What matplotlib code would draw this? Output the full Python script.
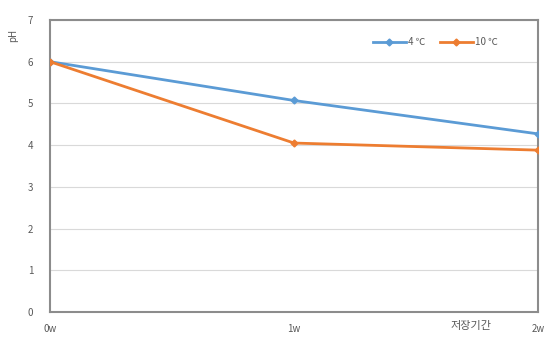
import matplotlib
matplotlib.use("Agg")
import matplotlib.pyplot as plt

plt.rcParams['font.family'] = ['Noto Sans CJK KR', 'DejaVu Sans']

weeks = ["0w", "1w", "2w"]
ph_4c = [6.0, 5.07, 4.27]
ph_10c = [6.0, 4.05, 3.88]
series_labels = ["4 ℃", "10 ℃"]
yticks = [0, 1, 2, 3, 4, 5, 6, 7]

fig = plt.figure(figsize=(5.48, 3.37), dpi=100)
ax = fig.add_axes([0.0912, 0.0742, 0.8906, 0.8665])

x = list(range(len(weeks)))
ax.plot(x, ph_4c, color="#5B9BD5", lw=2.0, marker="D", ms=3.5, label=series_labels[0], zorder=3)
ax.plot(x, ph_10c, color="#ED7D31", lw=2.0, marker="D", ms=3.5, label=series_labels[1], zorder=3)

ax.set_xlim(0, 2)
ax.set_ylim(0, 7)
ax.set_yticks(yticks)
ax.set_xticks(x)
ax.set_xticklabels(weeks)
ax.grid(axis="y", color="#D9D9D9", lw=0.8)
ax.set_axisbelow(True)
for s in ax.spines.values():
    s.set_color("#8C8C8C")
    s.set_linewidth(1.5)
ax.tick_params(length=0, colors="#595959", labelsize=7)
ax.tick_params(axis="y", pad=12)
ax.tick_params(axis="x", pad=9)

fig.text(0.024, 0.895, "pH", rotation=90, fontsize=7, color="#595959", ha="center", va="center")
fig.text(0.86, 0.032, "저장기간", fontsize=8, color="#595959", ha="center", va="center")

leg = ax.legend(loc="upper right", bbox_to_anchor=(0.935, 0.97), ncol=2, frameon=False,
                fontsize=7, labelcolor="#595959", handlelength=3.4, columnspacing=1.5, handletextpad=0.2)

fig.savefig("out.png", dpi=100)
